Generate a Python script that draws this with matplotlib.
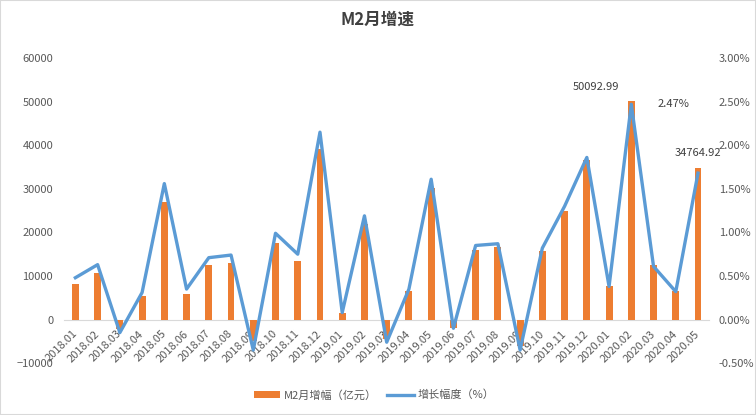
import matplotlib
matplotlib.use("Agg")
import matplotlib.pyplot as plt
from matplotlib.ticker import FuncFormatter
from matplotlib.patches import Rectangle

plt.rcParams['font.family'] = ['Noto Sans CJK SC', 'DejaVu Sans']

# Data
months = ['2018.01', '2018.02', '2018.03', '2018.04', '2018.05', '2018.06', '2018.07',
          '2018.08', '2018.09', '2018.10', '2018.11', '2018.12', '2019.01', '2019.02',
          '2019.03', '2019.04', '2019.05', '2019.06', '2019.07', '2019.08', '2019.09',
          '2019.10', '2019.11', '2019.12', '2020.01', '2020.02', '2020.03', '2020.04',
          '2020.05']
m2_increase = [8120, 10650, -2150, 5360, 26970, 5820, 12490, 12950, -5000, 17550,
               13410, 39160, 1460, 21990, -4500, 6510, 30270, -1840, 15940, 16630,
               -6000, 15710, 24900, 36630, 7660, 50092.99, 12490, 6510, 34764.92]
growth_pct = [0.48, 0.63, -0.15, 0.31, 1.56, 0.35, 0.71, 0.74, -0.35, 0.99,
              0.75, 2.15, 0.08, 1.19, -0.26, 0.35, 1.61, -0.10, 0.85, 0.87,
              -0.35, 0.82, 1.30, 1.86, 0.38, 2.47, 0.61, 0.32, 1.68]

orange = '#ED7D31'
blue = '#5B9BD5'
gray = '#595959'

fig = plt.figure(figsize=(7.56, 4.15), dpi=100)
ax = fig.add_axes([0.085, 0.125, 0.853, 0.735])
ax2 = ax.twinx()

x = list(range(len(months)))
bars = ax.bar(x, m2_increase, width=0.31, color=orange, zorder=2)
line, = ax2.plot(x, [v / 100 for v in growth_pct], color=blue, lw=2.4, zorder=3)

ax.set_xlim(-0.5, len(months) - 0.5)
ax.set_ylim(-10000, 60000)
ax.set_yticks(range(-10000, 60001, 10000))
ax2.set_ylim(-0.005, 0.03)
ax2.set_yticks([i * 0.005 for i in range(-1, 7)])
ax2.yaxis.set_major_formatter(FuncFormatter(lambda v, p: f'{v * 100:.2f}%'))
ax2.set_xlim(ax.get_xlim())

for a in (ax, ax2):
    for s in a.spines.values():
        s.set_visible(False)
    a.tick_params(axis='y', length=0, colors=gray, labelsize=8)
ax.tick_params(axis='y', pad=8)
ax2.tick_params(axis='y', pad=7)

# category axis sits on the zero line
ax.spines['bottom'].set_visible(True)
ax.spines['bottom'].set_position(('data', 0))
ax.spines['bottom'].set_color('#D9D9D9')
ax.spines['bottom'].set_zorder(1)
ax.set_xticks(x)
ax.set_xticklabels(months, rotation=45, ha='right', va='center',
                   rotation_mode='anchor', fontsize=8, color=gray)
ax.tick_params(axis='x', length=0, pad=9)

# data labels
ax.text(25 - 1.6, 50092.99 + 3200, '50092.99', fontsize=8, color='#404040',
        ha='center', va='center')
ax2.text(25 + 1.2, 0.0247, '2.47%', fontsize=8, color='#404040',
         ha='left', va='center')
ax.text(28, 34764.92 + 3400, '34764.92', fontsize=8, color='#404040',
        ha='center', va='center')

fig.text(0.5, 0.952, 'M2月增速', ha='center', va='center', fontsize=12,
         fontweight='bold', color='#404040')

fig.legend([bars, line], ['M2月增幅（亿元）', '增长幅度（%）'], loc='center',
           bbox_to_anchor=(0.495, 0.048), ncol=2, frameon=False, fontsize=8,
           labelcolor=gray, handlelength=2.4, handleheight=0.7,
           handletextpad=0.35, columnspacing=0.9)

fig.patches.append(Rectangle((0, 0), 1, 1, transform=fig.transFigure, fill=False,
                             edgecolor='#D9D9D9', lw=1.5))

fig.savefig('out.png', dpi=100)
